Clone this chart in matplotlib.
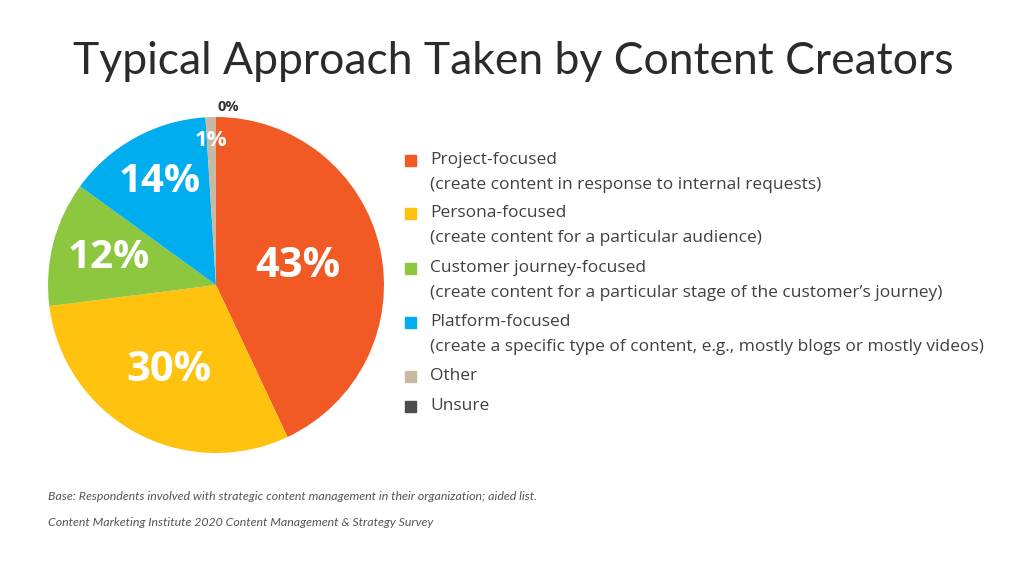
import numpy as np
import matplotlib
matplotlib.use("Agg")
import matplotlib.pyplot as plt
from matplotlib.patches import Rectangle

# data
categories = ["Project-focused", "Persona-focused", "Customer journey-focused",
              "Platform-focused", "Other", "Unsure"]
descriptions = ["(create content in response to internal requests)",
                "(create content for a particular audience)",
                "(create content for a particular stage of the customer\u2019s journey)",
                "(create a specific type of content, e.g., mostly blogs or mostly videos)",
                "", ""]
values = [43, 30, 12, 14, 1, 0]
pct_labels = ["43%", "30%", "12%", "14%", "1%", "0%"]
colors = ["#F15A24", "#FFC20E", "#8DC63F", "#00AEEF", "#C7B9A3", "#4D4D4D"]

W, H = 1024, 561
fig = plt.figure(figsize=(W / 100, H / 100), dpi=100)
fig.patch.set_facecolor("white")

def fx(px):
    return px / W

def fy(py):
    return 1 - py / H

# title
fig.text(fx(513), fy(62), "Typical Approach Taken by Content Creators",
         ha="center", va="center", fontsize=32, color="#2b2b2b",
         family="Lato", fontweight="normal")

# pie axes: center (216, 285), radius 168 px
cx, cy, r = 216, 285, 168
ax = fig.add_axes([fx(cx - r), fy(cy + r), 2 * r / W, 2 * r / H])
wedges, _ = ax.pie(values, colors=colors, startangle=90, counterclock=False,
                   radius=1, wedgeprops=dict(linewidth=0))
ax.set_xlim(-1, 1)
ax.set_ylim(-1, 1)
ax.set_aspect("equal")
ax.axis("off")

# label distances / sizes per slice
dists = [0.5, 0.58, 0.66, 0.7, 0.86, 1.06]
sizes = [30, 30, 29, 29, 16, 10.5]
tcols = ["white"] * 5 + ["#333333"]
for w, lab, d, s, c in zip(wedges, pct_labels, dists, sizes, tcols):
    ang = np.deg2rad((w.theta1 + w.theta2) / 2)
    if lab == "0%":
        ang = np.deg2rad(w.theta1 - 4)
    ax.text(d * np.cos(ang), d * np.sin(ang), lab, ha="center", va="center",
            fontsize=s, fontweight="bold", color=c, family="Open Sans",
            clip_on=False)

# legend
rows_y = [160, 213, 268, 322, 376, 406]
for cat, desc, col, y in zip(categories, descriptions, colors, rows_y):
    fig.patches.append(Rectangle((fx(405), fy(y + 6)), 11 / W, 11 / H,
                                 transform=fig.transFigure, color=col))
    fig.text(fx(430), fy(y), cat, ha="left", va="center", fontsize=12.5,
             color="#404040", family="Open Sans")
    if desc:
        fig.text(fx(430), fy(y + 25), desc, ha="left", va="center",
                 fontsize=12.5, color="#404040", family="Open Sans")

# footnotes
fig.text(fx(48), fy(496), "Base: Respondents involved with strategic content management in their organization; aided list.",
         ha="left", va="center", fontsize=8.9, style="italic", color="#555555", family="Lato")
fig.text(fx(48), fy(522), "Content Marketing Institute 2020 Content Management & Strategy Survey",
         ha="left", va="center", fontsize=8.9, style="italic", color="#555555", family="Lato")

fig.savefig("out.png", dpi=100)
